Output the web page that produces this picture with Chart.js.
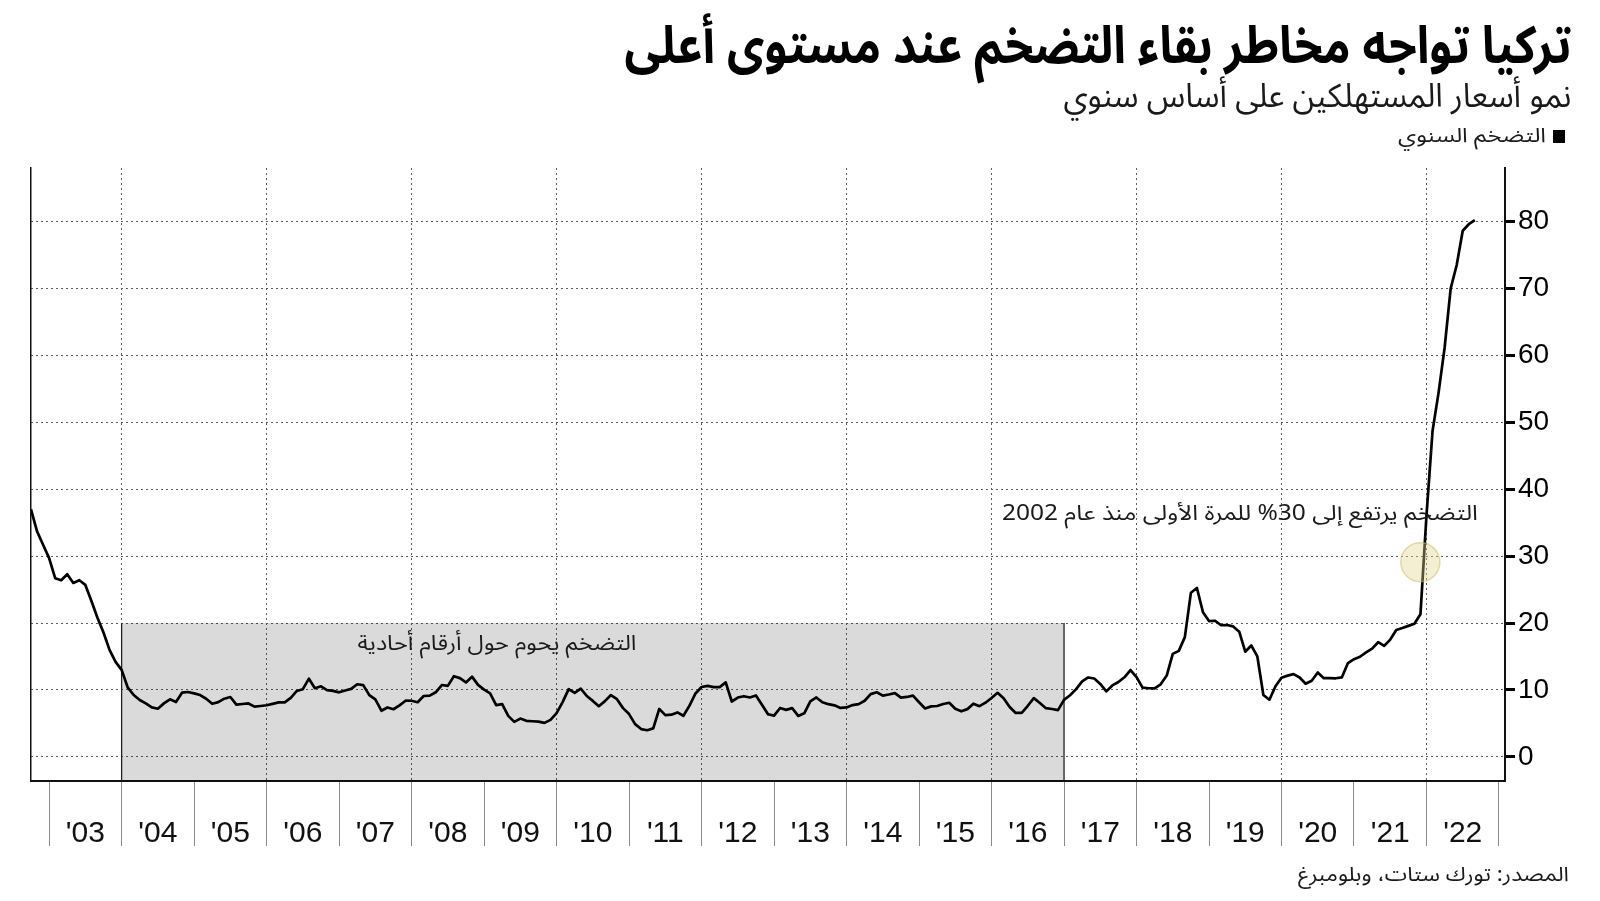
<!DOCTYPE html>
<html lang="ar">
<head>
<meta charset="utf-8">
<script src="https://cdn.jsdelivr.net/npm/chart.js@4.4.1/dist/chart.umd.min.js"></script>
<style>
  html, body { margin: 0; padding: 0; background: #fff; }
  #wrap { position: relative; width: 1600px; height: 901px; overflow: hidden; background:#fff; }
  #c { position: absolute; left: 0; top: 0; }
  .t { position: absolute; white-space: nowrap; direction: rtl; font-family: "Noto Sans Arabic", "DejaVu Sans", sans-serif; color: #1a1a1a; transform-origin: right center; }
  #title { font-weight: bold; color: #000; }
  #legend-box { position: absolute; width: 12px; height: 13px; background: #000; }
</style>
</head>
<body>
<div id="wrap">
  <canvas id="c" width="1600" height="901"></canvas>
  <div class="t" id="title" data-w="947" style="right:29px; top:14px; font-size:52px; line-height:66px;">تركيا تواجه مخاطر بقاء التضخم عند مستوى أعلى</div>
  <div class="t" id="subtitle" data-w="508" style="right:29px; top:75px; font-size:33px; line-height:44px;">نمو أسعار المستهلكين على أساس سنوي</div>
  <div id="legend-box" style="left:1553px; top:130px;"></div>
  <div class="t" id="legend" data-w="148" style="right:54px; top:122px; font-size:20px; line-height:28px;">التضخم السنوي</div>
  <div class="t" id="note1" data-w="476" style="right:122px; top:499px; font-size:21px; line-height:28px;">التضخم يرتفع إلى 30% للمرة الأولى منذ عام 2002</div>
  <div class="t" id="note2" data-w="279" style="right:964px; top:629px; font-size:21px; line-height:28px;">التضخم يحوم حول أرقام أحادية</div>
  <div class="t" id="source" data-w="271" style="right:31px; top:861px; font-size:20px; line-height:28px;">المصدر: تورك ستات، وبلومبرغ</div>
</div>
<script>
// ---------------- DATA ----------------
// Turkey CPI, year-on-year %, monthly from Sep 2002 to Aug 2022
const firstYear = 2002;
const firstMonth = 9;
const inflation = [
  // 2002 (Sep-Dec)
  37.0, 33.7, 31.7, 29.7,
  // 2003
  26.7, 26.4, 27.3, 26.0, 26.4, 25.7, 23.3, 20.8, 18.6, 16.0, 14.2, 13.0,
  // 2004
  10.4, 9.25, 8.5, 8.0, 7.4, 7.2, 8.0, 8.6, 8.2, 9.6, 9.7, 9.5,
  // 2005
  9.24, 8.69, 7.94, 8.18, 8.70, 8.95, 7.82, 7.91, 7.99, 7.52, 7.61, 7.72,
  // 2006
  7.93, 8.15, 8.16, 8.83, 9.86, 10.12, 11.69, 10.26, 10.55, 9.98, 9.86, 9.65,
  // 2007
  9.93, 10.16, 10.86, 10.72, 9.23, 8.60, 6.90, 7.39, 7.12, 7.70, 8.40, 8.39,
  // 2008
  8.17, 9.10, 9.15, 9.66, 10.74, 10.61, 12.06, 11.77, 11.13, 11.99, 10.76, 10.06,
  // 2009
  9.50, 7.73, 7.89, 6.13, 5.24, 5.73, 5.39, 5.33, 5.27, 5.08, 5.53, 6.53,
  // 2010
  8.19, 10.13, 9.56, 10.19, 9.10, 8.37, 7.58, 8.33, 9.24, 8.62, 7.29, 6.40,
  // 2011
  4.90, 4.16, 3.99, 4.26, 7.17, 6.24, 6.31, 6.65, 6.15, 7.66, 9.48, 10.45,
  // 2012
  10.61, 10.43, 10.43, 11.14, 8.28, 8.87, 9.07, 8.88, 9.19, 7.80, 6.37, 6.16,
  // 2013
  7.31, 7.03, 7.29, 6.13, 6.51, 8.30, 8.88, 8.17, 7.88, 7.71, 7.32, 7.40,
  // 2014
  7.75, 7.89, 8.39, 9.38, 9.66, 9.16, 9.32, 9.54, 8.86, 8.96, 9.15, 8.17,
  // 2015
  7.24, 7.55, 7.61, 7.91, 8.09, 7.20, 6.81, 7.14, 7.95, 7.58, 8.10, 8.81,
  // 2016
  9.58, 8.78, 7.46, 6.57, 6.58, 7.64, 8.79, 8.05, 7.28, 7.16, 7.00, 8.53,
  // 2017
  9.22, 10.13, 11.29, 11.87, 11.72, 10.90, 9.79, 10.68, 11.20, 11.90, 12.98, 11.92,
  // 2018
  10.35, 10.26, 10.23, 10.85, 12.15, 15.39, 15.85, 17.90, 24.52, 25.24, 21.62, 20.30,
  // 2019
  20.35, 19.67, 19.71, 19.50, 18.71, 15.72, 16.65, 15.01, 9.26, 8.55, 10.56, 11.84,
  // 2020
  12.15, 12.37, 11.86, 10.94, 11.39, 12.62, 11.76, 11.77, 11.75, 11.89, 14.03, 14.60,
  // 2021
  14.97, 15.61, 16.19, 17.14, 16.59, 17.53, 18.95, 19.25, 19.58, 19.89, 21.31, 36.08,
  // 2022 (Jan-Aug)
  48.69, 54.44, 61.14, 69.97, 73.50, 78.62, 79.60, 80.21
];
const yearLabels = ["'03","'04","'05","'06","'07","'08","'09","'10","'11","'12",
                    "'13","'14","'15","'16","'17","'18","'19","'20","'21","'22"];
const yearBoundaries = [2003,2004,2005,2006,2007,2008,2009,2010,2011,2012,2013,
                        2014,2015,2016,2017,2018,2019,2020,2021,2022,2023];
const yLabelTicks = [0, 10, 20, 30, 40, 50, 60, 70, 80];
const yMinorTicks = [5, 15, 25, 35, 45, 55, 65, 75, 85];
const shadeYears = [2004, 2017];   // "single digits" period
const shadeTop = 20;
const highlight = [2021.915, 29.1]; // first time above 30%
const xRange = [2002.75, 2023.083];
const yRange = [-3.6, 88];

// ---------------- BUILD ----------------
const linePoints = inflation.map((v, i) => ({ x: firstYear + (firstMonth + i) / 12, y: v }));
const shadePoints = [
  { x: shadeYears[0], y: yRange[0] }, { x: shadeYears[0], y: shadeTop },
  { x: shadeYears[1], y: shadeTop },  { x: shadeYears[1], y: yRange[0] }
];
const isInt = v => Math.abs(v - Math.round(v)) < 1e-6;
const gridCol = '#5e5e5e';

new Chart(document.getElementById('c'), {
  type: 'line',
  data: {
    datasets: [
      {
        data: [{ x: highlight[0], y: highlight[1] }],
        showLine: false, pointRadius: 19.5, pointHoverRadius: 19.5,
        pointBackgroundColor: 'rgba(226,212,140,0.38)', pointBorderColor: 'rgba(205,190,110,0.55)',
        pointBorderWidth: 1.5, order: 0, yAxisID: 'y'
      },
      {
        data: linePoints, borderColor: '#000', borderWidth: 2.7, pointRadius: 0,
        tension: 0, fill: false, order: 1, yAxisID: 'y', borderJoinStyle: 'round'
      },
      {
        data: shadePoints, borderColor: '#222', borderWidth: 1.3, pointRadius: 0,
        backgroundColor: 'rgba(0,0,0,0.145)', fill: 'start', order: 2, yAxisID: 'y',
        segment: { borderColor: ctx => ctx.p0DataIndex === 1 ? 'rgba(0,0,0,0)' : '#222' }
      }
    ]
  },
  options: {
    responsive: false, animation: false, devicePixelRatio: 1,
    layout: { padding: { top: 168, left: 31, right: 0, bottom: 0 } },
    plugins: { legend: { display: false }, tooltip: { enabled: false }, title: { display: false } },
    events: [],
    scales: {
      x: {
        type: 'linear', position: 'bottom', min: xRange[0], max: xRange[1],
        afterBuildTicks: s => {
          const t = [];
          yearBoundaries.forEach((y, k) => {
            t.push({ value: y });
            if (k < yearLabels.length) t.push({ value: y + 0.5 });
          });
          s.ticks = t;
        },
        afterFit: s => { s.height = 120; },
        ticks: {
          autoSkip: false, maxRotation: 0, minRotation: 0, padding: -30,
          color: '#111', font: { family: 'Liberation Sans, Arial, sans-serif', size: 30 },
          callback: v => isInt(v) ? '' : yearLabels[Math.round(v - 0.5) - yearBoundaries[0]]
        },
        grid: {
          drawOnChartArea: true, drawTicks: true, tickLength: 65, lineWidth: 1,
          color: c => (c.tick && isInt(c.tick.value) && Math.round(c.tick.value) % 2 === 0) ? gridCol : 'rgba(0,0,0,0)',
          tickColor: c => (c.tick && isInt(c.tick.value)) ? '#8a8a8a' : 'rgba(0,0,0,0)',
          tickWidth: 1, tickBorderDash: () => []
        },
        border: { display: true, color: '#111', width: 2, dash: [2, 3] }
      },
      y: {
        type: 'linear', position: 'right', min: yRange[0], max: yRange[1],
        afterBuildTicks: s => {
          s.ticks = yLabelTicks.concat(yMinorTicks).sort((a, b) => a - b).map(v => ({ value: v }));
        },
        afterFit: s => { s.width = 95; },
        ticks: {
          padding: 3, color: '#000', font: { family: 'Liberation Sans, Arial, sans-serif', size: 28 },
          callback: v => yLabelTicks.includes(v) ? String(v) : ''
        },
        grid: {
          drawOnChartArea: true, drawTicks: true, tickLength: 10, lineWidth: 1,
          color: c => (c.tick && yLabelTicks.includes(c.tick.value)) ? gridCol : 'rgba(0,0,0,0)',
          tickColor: '#000',
          tickWidth: c => (c.tick && yLabelTicks.includes(c.tick.value)) ? 3 : 1.2,
          tickBorderDash: c => (c.tick && yLabelTicks.includes(c.tick.value)) ? [] : [5, 40]
        },
        border: { display: true, color: '#111', width: 2, dash: [2, 3] }
      },
      yl: {
        type: 'linear', position: 'left', min: yRange[0], max: yRange[1],
        afterFit: s => { s.width = 0; },
        ticks: { display: false },
        grid: { display: false, drawTicks: false },
        border: { display: true, color: '#111', width: 1.5 }
      }
    }
  }
});

// fit HTML text blocks to the reference widths
document.querySelectorAll('.t').forEach(el => {
  const target = parseFloat(el.dataset.w);
  const w = el.getBoundingClientRect().width;
  if (w > 0) el.style.transform = 'scaleX(' + (target / w) + ')';
});
</script>
</body>
</html>
